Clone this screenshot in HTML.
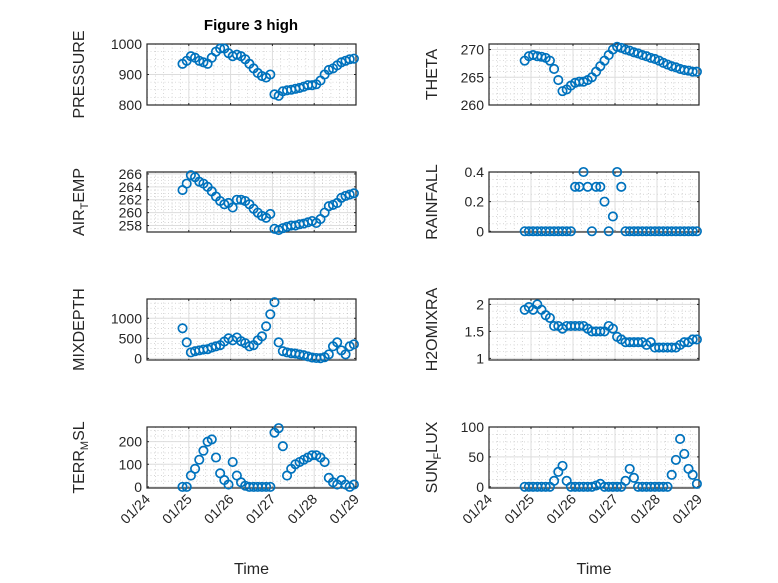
<!DOCTYPE html>
<html><head><meta charset="utf-8"><style>
body{margin:0;background:#fff;}
svg{display:block;font-family:"Liberation Sans",sans-serif;}
</style></head><body>
<svg id="fig" width="778" height="583" viewBox="0 0 778 583">
<rect width="778" height="583" fill="#fff"/>
<text x="251" y="30" text-anchor="middle" font-weight="bold" font-size="15">Figure 3 high</text>
</svg>
<script>
const times=[0.85,0.95,1.05,1.15,1.25,1.35,1.45,1.55,1.65,1.75,1.85,1.95,2.05,2.15,2.25,2.35,2.45,2.55,2.65,2.75,2.85,2.95,3.05,3.15,3.25,3.35,3.45,3.55,3.65,3.75,3.85,3.95,4.05,4.15,4.25,4.35,4.45,4.55,4.65,4.75,4.85,4.95];
const xTickLabels=["01/24","01/25","01/26","01/27","01/28","01/29"];
const pressure=[935,945,960,955,945,940,935,955,975,985,985,970,960,965,960,950,935,920,905,895,890,900,835,830,845,848,850,853,856,860,865,865,868,880,900,915,920,930,940,945,950,952];
const theta=[268,268.8,269,268.8,268.7,268.5,268,266.5,264.5,262.5,262.8,263.5,264,264.2,264.2,264.5,265,266,267,268,269,270,270.5,270.3,270,269.8,269.5,269.3,269,268.8,268.5,268.3,268,267.6,267.3,267,266.8,266.5,266.3,266.2,266,266];
const airTemp=[263.5,264.5,265.8,265.5,264.8,264.5,264,263.3,262.5,261.8,261.3,261.5,260.8,262,262,261.8,261.3,260.6,260,259.5,259.2,259.8,257.5,257.3,257.6,257.8,258,258,258.2,258.3,258.5,258.7,258.4,259,260,261,261.2,261.5,262.3,262.6,262.8,263];
const rainfall=[0,0,0,0,0,0,0,0,0,0,0,0,0.3,0.3,0.4,0.3,0,0.3,0.3,0.2,0,0.1,0.4,0.3,0,0,0,0,0,0,0,0,0,0,0,0,0,0,0,0,0,0];
const mixdepth=[750,400,150,180,200,220,230,270,300,330,420,500,450,520,430,380,300,330,450,550,800,1100,1400,400,180,150,130,120,100,80,50,20,10,5,30,100,300,400,200,100,300,350];
const h2o=[1.9,1.95,1.9,2.0,1.9,1.8,1.75,1.6,1.6,1.55,1.6,1.6,1.6,1.6,1.6,1.55,1.5,1.5,1.5,1.5,1.6,1.55,1.4,1.35,1.3,1.3,1.3,1.3,1.3,1.25,1.3,1.2,1.2,1.2,1.2,1.2,1.2,1.25,1.3,1.3,1.35,1.35];
const terr=[0,0,50,80,120,160,200,210,130,60,30,10,110,50,20,5,0,0,0,0,0,0,240,260,180,50,80,100,110,120,130,140,140,130,110,40,20,10,30,10,0,10];
const sunflux=[0,0,0,0,0,0,0,10,25,35,10,0,0,0,0,0,0,2,5,0,0,0,0,0,10,30,15,0,0,0,0,0,0,0,0,20,45,80,55,30,20,5];

const NS="http://www.w3.org/2000/svg";
const svg=document.getElementById('fig');
function mk(tag,attrs,parent){const e=document.createElementNS(NS,tag);for(const k in attrs)e.setAttribute(k,attrs[k]);(parent||svg).appendChild(e);return e;}

const panels=[
 {name:"pressure",label:[["PRESSURE"]],vals:pressure,col:0,row:0,ymin:800,ymax:1000,ticks:[800,900,1000],minor:25},
 {name:"theta",label:[["THETA"]],vals:theta,col:1,row:0,ymin:260,ymax:271,ticks:[260,265,270],minor:1},
 {name:"air-temp",label:[["AIR"],["T","sub"],["EMP"]],vals:airTemp,col:0,row:1,ymin:257,ymax:266.3,ticks:[258,260,262,264,266],minor:0.5},
 {name:"rainfall",label:[["RAINFALL"]],vals:rainfall,col:1,row:1,ymin:-0.005,ymax:0.4,ticks:[0,0.2,0.4],minor:0.05},
 {name:"mixdepth",label:[["MIXDEPTH"]],vals:mixdepth,col:0,row:2,ymin:-40,ymax:1480,ticks:[0,500,1000],minor:125},
 {name:"h2omixra",label:[["H2OMIXRA"]],vals:h2o,col:1,row:2,ymin:0.97,ymax:2.1,ticks:[1,1.5,2],minor:0.125},
 {name:"terr-msl",label:[["TERR"],["M","sub"],["SL"]],vals:terr,col:0,row:3,ymin:-5,ymax:265,ticks:[0,100,200],minor:25},
 {name:"sun-flux",label:[["SUN"],["F","sub"],["LUX"]],vals:sunflux,col:1,row:3,ymin:-2,ymax:100,ticks:[0,50,100],minor:12.5}
];
const colX=[[147,356],[489,699]];
const rowY=[[44,105],[172,232],[299,360],[427,488]];

panels.forEach(p=>{
 const [x0,x1]=colX[p.col];const [y0,y1]=rowY[p.row];
 const g=mk('g',{});
 
 
 const xs=t=>x0+(t-0)/(5-0)*(x1-x0);
 const ys=v=>y1-(v-p.ymin)/(p.ymax-p.ymin)*(y1-y0);
 mk('rect',{x:x0,y:y0,width:x1-x0,height:y1-y0,fill:'#fff'},g);
 for(let t=0;t<=5.001;t+=0.2){const x=xs(t);mk('line',{x1:x,x2:x,y1:y0,y2:y1,stroke:'#bbb','stroke-width':0.6,'stroke-dasharray':'1,2.5'},g);}
 for(let v=Math.ceil(p.ymin/p.minor)*p.minor;v<=p.ymax;v+=p.minor){const y=ys(v);mk('line',{x1:x0,x2:x1,y1:y,y2:y,stroke:'#bbb','stroke-width':0.6,'stroke-dasharray':'1,2.5'},g);}
 for(let i=0;i<=5;i++){const x=xs(i);mk('line',{x1:x,x2:x,y1:y0,y2:y1,stroke:'#ddd','stroke-width':1},g);
   mk('line',{x1:x,x2:x,y1:y1,y2:y1-2,stroke:'#262626','stroke-width':1},g);
   mk('line',{x1:x,x2:x,y1:y0,y2:y0+2,stroke:'#262626','stroke-width':1},g);}
 p.ticks.forEach(v=>{const y=ys(v);mk('line',{x1:x0,x2:x1,y1:y,y2:y,stroke:'#ddd','stroke-width':1},g);
   mk('line',{x1:x0,x2:x0+2,y1:y,y2:y,stroke:'#262626'},g);
   mk('line',{x1:x1,x2:x1-2,y1:y,y2:y,stroke:'#262626'},g);
   const tl=mk('text',{x:x0-5,y:y+5,'text-anchor':'end','font-size':14,fill:'#262626'},g);
   tl.textContent=String(v);
   
   });
 mk('rect',{x:x0,y:y0,width:x1-x0,height:y1-y0,fill:'none',stroke:'#262626','stroke-width':1.2},g);
 p.vals.forEach((v,i)=>{const c=mk('circle',{cx:xs(times[i]),cy:ys(v),r:4.2,fill:'none',stroke:'#0072BD','stroke-width':1.7},g);
   
   });
 const ly=(y0+y1)/2;
 const lab=mk('text',{x:0,y:0,transform:`translate(${p.col===0?84:437},${ly}) rotate(-90)`,'text-anchor':'middle','font-size':16,fill:'#262626'},g);
 
 
 p.label.forEach(part=>{const ts=mk('tspan',{},lab);ts.textContent=part[0];
   if(part[1]==='sub'){ts.setAttribute('font-size','11');ts.setAttribute('dy','4');}
   else if(lab.childNodes.length>1){ts.setAttribute('dy','-4');}});
 if(p.row===3){
  xTickLabels.forEach((s,i)=>{const x=xs(i);const t=mk('text',{transform:`translate(${x+4},${y1+12}) rotate(-45)`,'text-anchor':'end','font-size':14,fill:'#262626'},g);
   t.textContent=s;
   
   });
  const xt=mk('text',{x:(x0+x1)/2,y:574,'text-anchor':'middle','font-size':16,fill:'#262626'},g);
  xt.textContent='Time';
  
  
 }
});
</script>
</body></html>
